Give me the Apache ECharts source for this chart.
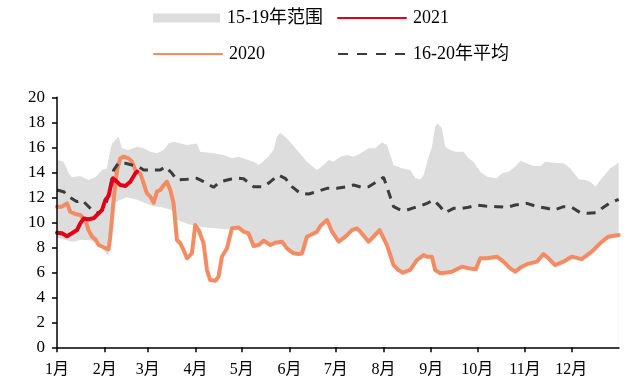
<!DOCTYPE html>
<html>
<head>
<meta charset="utf-8">
<script src="https://cdn.jsdelivr.net/npm/echarts@6/dist/echarts.min.js"></script>
<style>
  html, body { margin: 0; padding: 0; background: #fff; }
  #chart { width: 632px; height: 383px; }
</style>
</head>
<body>
<div id="chart"></div>
<script>
// Day-of-year positions (0 = 1 Jan) where each month starts, and their labels
const monthStarts = [0, 31, 59, 90, 120, 151, 181, 212, 243, 273, 304, 334];
const monthLabels = ['1月', '2月', '3月', '4月', '5月', '6月', '7月', '8月', '9月', '10月', '11月', '12月'];

// 15-19 range: upper edge
const bandHighDays = [0, 4.3, 7.6, 9.7, 15.1, 20.5, 24.9, 29.2, 32.4, 33.5, 35.7, 40, 42.2, 46.5, 51.9, 56.3, 60.6, 64.9, 69.3, 72.5, 75.7, 84.4, 90.9, 93, 101.7, 108.2, 113.6, 117.9, 127.7, 131, 136.3, 140.7, 142.8, 145, 149.3, 155.8, 162.3, 168.8, 173.1, 176.4, 179.6, 184, 188.3, 192.6, 197, 202.4, 206.7, 211, 214.3, 218.6, 224, 229.4, 232.7, 236, 238.1, 241.3, 243.5, 245.6, 247.2, 250, 252.1, 255.4, 258.6, 264, 267.2, 270.5, 274.9, 279.3, 285.7, 289, 293.3, 297.6, 300.9, 304.2, 309.6, 314, 317.1, 322.6, 329, 333.4, 338.8, 343.2, 346.4, 349.7, 352.9, 359.4, 364.8];
const bandHighVals = [15.0, 14.85, 13.92, 13.6, 13.7, 13.38, 13.6, 14.18, 14.32, 15.1, 16.3, 16.85, 15.92, 15.78, 16.05, 15.92, 15.65, 15.52, 15.78, 16.3, 16.45, 16.18, 16.3, 15.65, 15.52, 15.38, 15.12, 15.25, 14.85, 14.58, 15.12, 15.78, 16.85, 17.17, 16.72, 15.78, 14.85, 14.18, 14.58, 14.98, 14.85, 15.25, 15.38, 15.25, 15.5, 15.92, 15.92, 16.38, 16.18, 14.58, 14.32, 14.18, 13.52, 13.44, 13.78, 15.25, 16.05, 17.65, 17.92, 17.52, 16.05, 15.78, 15.65, 15.65, 15.12, 14.85, 14.05, 13.65, 13.52, 13.92, 14.05, 14.45, 14.93, 14.77, 14.5, 14.5, 14.85, 14.77, 14.72, 14.32, 13.44, 13.38, 13.25, 12.85, 13.38, 14.32, 14.77];

// 15-19 range: lower edge
const bandLowDays = [0, 5, 10, 16, 22, 27, 30, 33.5, 35.5, 38, 45, 52, 58, 62, 68, 74, 78, 84, 90, 96, 104, 110.4, 113.6, 117.9, 121.2, 124.4, 127.7, 131, 134.2, 138.6, 141.8, 146.1, 149.3, 153.7, 156.9, 159.1, 162.3, 166.6, 168.8, 171, 175.4, 178.6, 183, 187.3, 191.6, 194.8, 197, 202.4, 205.6, 209.5, 214.3, 218.6, 221.8, 224.7, 229.4, 233.7, 238.1, 240.3, 243.5, 245.6, 248.9, 252.1, 256.5, 259.7, 263, 267.2, 272, 274.9, 279.3, 285.7, 290, 294.3, 297.6, 301.9, 305.2, 311.7, 315.9, 319.2, 323.5, 328.9, 334.3, 340.8, 347.3, 352.7, 358.1, 364.8];
const bandLowVals = [8.8, 8.6, 8.45, 8.6, 8.55, 8.2, 7.8, 7.3, 10.5, 11.6, 12.0, 11.8, 11.5, 11.3, 11.2, 11.0, 10.2, 9.9, 9.7, 9.6, 9.5, 9.45, 9.5, 9.55, 9.25, 9.1, 8.1, 8.18, 8.53, 8.18, 8.37, 8.45, 7.92, 7.52, 7.46, 7.5, 8.85, 9.11, 9.25, 9.7, 10.18, 9.25, 8.45, 8.85, 9.38, 9.52, 9.25, 8.45, 8.85, 9.38, 8.18, 6.58, 6.18, 5.97, 6.25, 6.98, 7.38, 7.25, 7.25, 6.18, 5.92, 5.97, 6.05, 6.24, 6.45, 6.32, 6.24, 7.12, 7.12, 7.25, 6.85, 6.32, 6.05, 6.45, 6.65, 6.85, 7.46, 7.12, 6.58, 6.85, 7.25, 7.05, 7.65, 8.32, 8.85, 8.98];

// 2020
const y2020Days = [0, 3.2, 6.5, 8.6, 11.9, 15.1, 18.4, 20.5, 22.7, 24.9, 27.1, 30.3, 33.5, 34.6, 36.8, 39, 41.1, 43.3, 46.5, 48.7, 50.9, 54.1, 56.3, 58.4, 60.6, 62.8, 64.9, 67.1, 69.3, 71.4, 73.6, 75.7, 77.9, 80.1, 82.2, 84.4, 87.6, 89.8, 92, 95.2, 97.4, 99.5, 102.8, 104.9, 107.1, 110.4, 113.6, 117.9, 121.2, 124.4, 127.7, 131, 134.2, 138.6, 141.8, 146.1, 149.3, 153.7, 156.9, 159.1, 162.3, 166.6, 168.8, 171, 175.4, 178.6, 183, 187.3, 191.6, 194.8, 197, 202.4, 205.6, 209.5, 214.3, 218.6, 221.8, 224.7, 229.4, 233.7, 238.1, 240.3, 243.5, 245.6, 248.9, 252.1, 256.5, 259.7, 263, 267.2, 272, 274.9, 279.3, 285.7, 290, 294.3, 297.6, 301.9, 305.2, 311.7, 315.9, 319.2, 323.5, 328.9, 334.3, 340.8, 347.3, 352.7, 358.1, 364.8];
const y2020Vals = [11.25, 11.25, 11.52, 10.85, 10.66, 10.58, 10.18, 9.38, 8.85, 8.64, 8.18, 8.0, 7.84, 8.85, 11.78, 14.18, 15.12, 15.25, 15.12, 14.85, 14.18, 13.92, 13.12, 12.32, 12.05, 11.57, 12.45, 12.58, 12.98, 13.25, 12.58, 11.52, 8.58, 8.32, 7.78, 7.12, 7.52, 9.78, 9.38, 8.32, 6.18, 5.38, 5.33, 5.65, 7.25, 7.92, 9.52, 9.58, 9.25, 9.11, 8.1, 8.18, 8.53, 8.18, 8.37, 8.45, 7.92, 7.52, 7.46, 7.5, 8.85, 9.11, 9.25, 9.7, 10.18, 9.25, 8.45, 8.85, 9.38, 9.52, 9.25, 8.45, 8.85, 9.38, 8.18, 6.58, 6.18, 5.97, 6.2, 6.98, 7.38, 7.25, 7.25, 6.18, 5.92, 5.97, 6.05, 6.24, 6.45, 6.32, 6.24, 7.12, 7.12, 7.25, 6.85, 6.32, 6.05, 6.45, 6.65, 6.85, 7.46, 7.12, 6.58, 6.85, 7.25, 7.05, 7.65, 8.32, 8.85, 8.98];

// 16-20 average
const avgDays = [0, 4.3, 7.6, 13, 16.2, 19.5, 22.7, 27.1, 31.4, 34.6, 36.8, 40, 44.4, 48.7, 53, 56.3, 60.6, 67.1, 70.4, 74.7, 77.9, 84.4, 90.9, 95.2, 101.7, 106, 112.5, 117.9, 121.2, 127.7, 134.2, 138.6, 143.9, 148.2, 152.6, 158, 163.4, 168.8, 175.4, 181.8, 188.3, 192.6, 198, 202.4, 207.8, 212.1, 215.3, 218.6, 222.9, 227.2, 231.5, 235.9, 240.3, 244.6, 248.9, 252.1, 257.6, 263, 267.2, 272.7, 278.1, 285.7, 292.5, 297.6, 305.2, 311.7, 318.2, 322.6, 329, 334.3, 339.8, 344.2, 350.6, 354, 359.4, 364.8];
const avgVals = [12.58, 12.45, 12.05, 11.65, 11.78, 11.38, 10.98, 10.72, 11.25, 12.85, 14.18, 14.76, 14.72, 14.58, 14.45, 14.18, 14.18, 14.18, 14.45, 13.92, 13.38, 13.44, 13.52, 13.25, 12.8, 13.25, 13.44, 13.52, 13.48, 12.85, 12.85, 13.25, 13.78, 13.52, 12.85, 12.32, 12.26, 12.45, 12.72, 12.72, 12.85, 12.98, 12.8, 12.85, 13.25, 13.6, 12.45, 11.25, 11.0, 10.98, 11.15, 11.3, 11.52, 11.78, 11.25, 10.77, 11.12, 11.12, 11.2, 11.38, 11.3, 11.25, 11.2, 11.38, 11.52, 11.25, 11.12, 10.98, 11.25, 11.2, 10.77, 10.72, 10.77, 11.12, 11.57, 11.84];

// 2021
const y2021Days = [0, 3.2, 6.5, 9.7, 13, 15.1, 17.3, 20.5, 23.8, 27.1, 29.2, 31.4, 33.5, 34.6, 36.3, 38.9, 41.1, 44.4, 47.6, 50.9, 52];
const y2021Vals = [9.17, 9.12, 8.88, 9.12, 9.38, 9.92, 10.3, 10.24, 10.32, 10.72, 10.98, 11.78, 12.1, 12.72, 13.52, 13.25, 12.98, 12.9, 13.25, 13.92, 14.05];

const pairs = (days, vals) => days.map((d, i) => [d, vals[i]]);

const FONT = "'Liberation Serif', 'Noto Sans CJK SC', serif";
const GRAY = '#dddddd';
const ORANGE = '#f58b62';
const RED = '#e00018';
const DARK = '#3c3c3c';

const chart = echarts.init(document.getElementById('chart'), null, { renderer: 'canvas' });

// One legend block per entry so the two columns line up
function legendAt(name, left, top, extra) {
  return Object.assign({
    data: [name],
    left: left,
    top: top,
    padding: 0,
    itemWidth: 68,
    itemHeight: 14,
    selectedMode: false,
    itemStyle: { opacity: 0 },
    textStyle: { fontFamily: FONT, fontSize: 18, color: '#000', padding: [0, 0, 0, 2] }
  }, extra || {});
}

chart.setOption({
  animation: false,
  backgroundColor: '#fff',
  legend: [
    legendAt('15-19年范围', 153, 9, {
      data: [{ name: '15-19年范围', icon: 'rect' }],
      itemStyle: { color: GRAY, opacity: 1 },
      itemWidth: 67, itemHeight: 9
    }),
    legendAt('2021', 337, 9),
    legendAt('2020', 153, 45),
    legendAt('16-20年平均', 337, 45, { lineStyle: { type: [10, 9] } })
  ],
  grid: { left: 57, right: 13, top: 97.3, bottom: 35.7, containLabel: false },
  xAxis: {
    type: 'value',
    min: 0,
    max: 365,
    z: 10,
    splitLine: { show: false },
    axisLine: { show: true, lineStyle: { color: '#000', width: 1.5 } },
    axisTick: { show: true, length: 5, customValues: monthStarts, lineStyle: { color: '#000', width: 1.5 } },
    axisLabel: {
      customValues: monthStarts,
      formatter: v => monthLabels[monthStarts.indexOf(v)],
      fontFamily: FONT, fontSize: 16, color: '#000', margin: 14
    }
  },
  yAxis: {
    type: 'value',
    min: 0,
    max: 20,
    interval: 2,
    z: 10,
    splitLine: { show: false },
    axisLine: { show: true, lineStyle: { color: '#000', width: 1.5 } },
    axisTick: { show: true, length: 5, lineStyle: { color: '#000', width: 1.5 } },
    axisLabel: { fontFamily: FONT, fontSize: 17, color: '#000', margin: 12 }
  },
  series: [
    {
      name: '15-19年范围',
      type: 'line',
      data: pairs(bandHighDays, bandHighVals),
      symbol: 'none',
      lineStyle: { width: 0, color: GRAY },
      itemStyle: { color: GRAY },
      areaStyle: { color: GRAY, opacity: 1 }
    },
    {
      name: 'band-floor',
      type: 'line',
      data: pairs(bandLowDays, bandLowVals),
      symbol: 'none',
      lineStyle: { width: 0, color: '#fff' },
      areaStyle: { color: '#fff', opacity: 1 }
    },
    {
      name: '2020',
      type: 'line',
      data: pairs(y2020Days, y2020Vals),
      symbol: 'none',
      lineStyle: { width: 4, color: ORANGE, join: 'round', cap: 'round' },
      itemStyle: { color: ORANGE }
    },
    {
      name: '16-20年平均',
      type: 'line',
      data: pairs(avgDays, avgVals),
      symbol: 'none',
      lineStyle: { width: 3, color: DARK, type: [9, 7] },
      itemStyle: { color: DARK }
    },
    {
      name: '2021',
      type: 'line',
      data: pairs(y2021Days, y2021Vals),
      symbol: 'none',
      lineStyle: { width: 4, color: RED, join: 'round', cap: 'round' },
      itemStyle: { color: RED }
    }
  ]
});
</script>
</body>
</html>
